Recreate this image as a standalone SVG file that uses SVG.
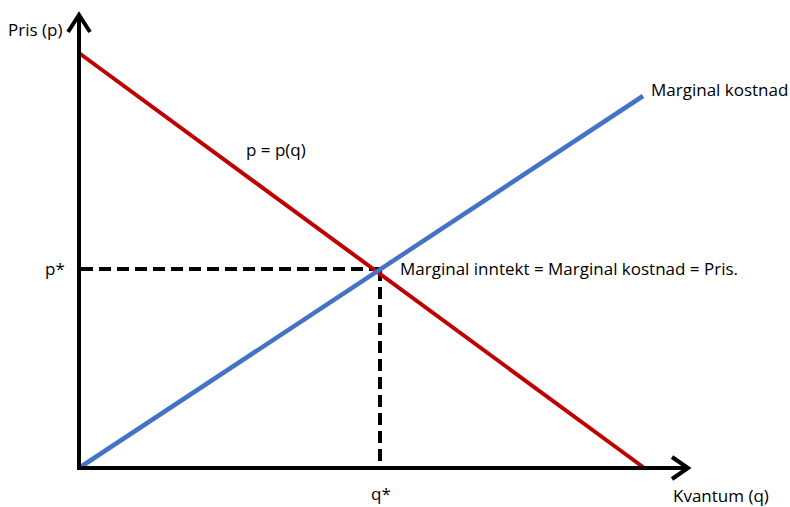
<svg xmlns="http://www.w3.org/2000/svg" width="790" height="507" viewBox="0 0 790 507">
<style>
text{font-family:"Open Sans","Liberation Sans",sans-serif;font-size:17px;fill:#000}
.ax{stroke:#000;stroke-width:4;fill:none}
.dash{stroke:#000;stroke-width:4;stroke-dasharray:12 6;fill:none}
</style>
<rect width="790" height="507" fill="#fff"/>
<g id="connectors">
<line class="dash" x1="81" y1="269" x2="380" y2="269"/>
<line class="dash" x1="380" y1="269" x2="380" y2="466"/>
<line x1="79" y1="53" x2="643" y2="467" stroke="#C00000" stroke-width="4"/>
<line x1="79" y1="468" x2="643" y2="96" stroke="#4472C4" stroke-width="4.5"/>
</g>
<g id="y-axis">
<line class="ax" x1="79" y1="470" x2="79" y2="15"/>
<polyline class="ax" points="68,32 79,15 90,32"/>
<text x="8" y="36">Pris (p)</text>
</g>
<g id="x-axis">
<line class="ax" x1="77" y1="468" x2="687" y2="468"/>
<polyline class="ax" points="672,457 688,468 672,479"/>
<text x="673" y="502">Kvantum (q)</text>
</g>
<g id="labels">
<text x="246" y="156">p = p(q)</text>
<text x="651" y="96">Marginal kostnad</text>
<text x="45" y="275">p*</text>
<text x="400" y="275">Marginal inntekt = Marginal kostnad = Pris.</text>
<text x="371" y="500">q*</text>
</g>
</svg>
